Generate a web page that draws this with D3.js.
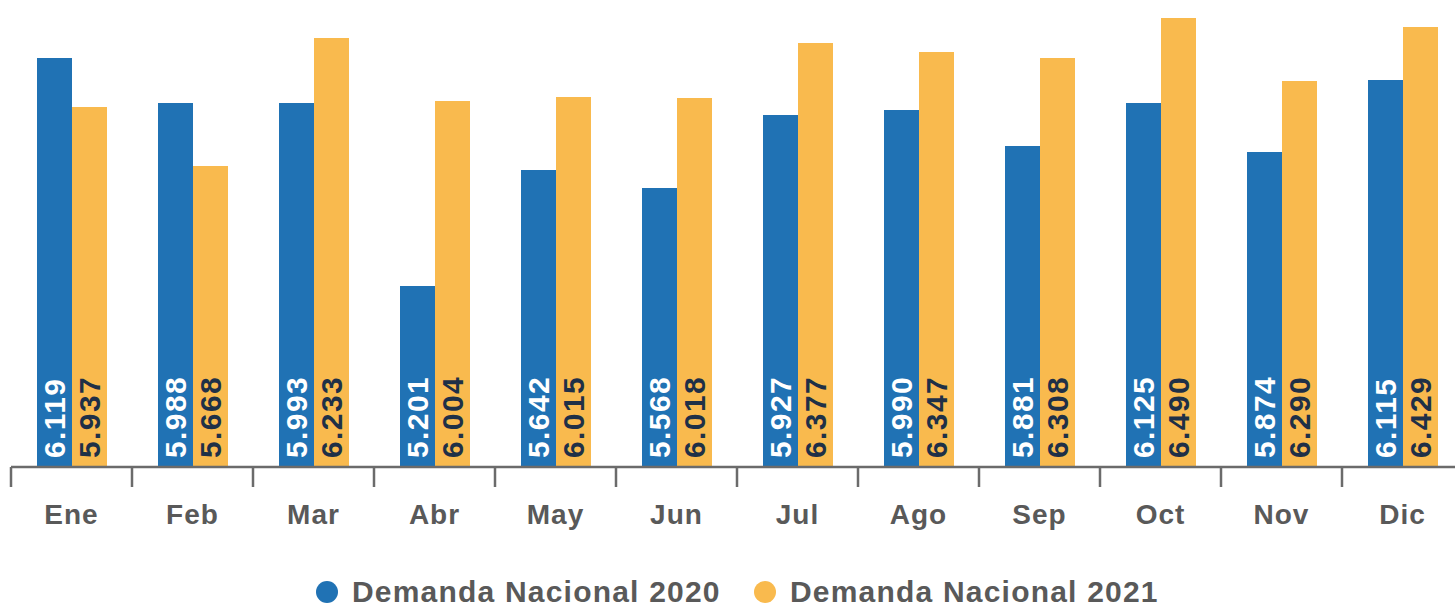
<!DOCTYPE html>
<html>
<head>
<meta charset="utf-8">
<script src="https://cdn.jsdelivr.net/npm/d3@7"></script>
<style>
  html, body { margin: 0; padding: 0; background: #fff; overflow: hidden; }
  svg { display: block; font-family: "Liberation Sans", Arial, Helvetica, sans-serif; }
</style>
</head>
<body>
<div id="chart"></div>
<script>
// months on the x axis
const months = ["Ene", "Feb", "Mar", "Abr", "May", "Jun", "Jul", "Ago", "Sep", "Oct", "Nov", "Dic"];
const seriesNames = ["Demanda Nacional 2020", "Demanda Nacional 2021"];

// printed values inside the bars
const labels2020 = ["6.119", "5.988", "5.993", "5.201", "5.642", "5.568", "5.927", "5.990", "5.881", "6.125", "5.874", "6.115"];
const labels2021 = ["5.937", "5.668", "6.233", "6.004", "6.015", "6.018", "6.377", "6.347", "6.308", "6.490", "6.290", "6.429"];

// plotted bar lengths (the bars do not follow the printed labels)
const bars2020 = [409, 364, 364, 181, 297, 279, 352, 357, 321, 364, 315, 387];
const bars2021 = [360, 301, 429, 366, 370, 369, 424, 415, 409, 449, 386, 440];

const colors = ["#2072b4", "#f9ba4e"];
const labelColors = ["#ffffff", "#1f3047"];

const width = 1455, height = 609;
const baseY = 467;

const svg = d3.select("#chart").append("svg")
  .attr("width", width)
  .attr("height", height);

// one band per month, ticks sit on the band edges
const x = d3.scaleBand()
  .domain(months)
  .range([11, 11 + 121 * 12])
  .padding(0);

const x1 = d3.scaleBand()
  .domain([0, 1])
  .range([26, 96])
  .padding(0);

const y = d3.scaleLinear()
  .domain([0, 460])
  .range([baseY, baseY - 460]);

const data = months.map((m, i) => ({
  month: m,
  values: [
    { s: 0, v: bars2020[i], label: labels2020[i] },
    { s: 1, v: bars2021[i], label: labels2021[i] }
  ]
}));

const groups = svg.append("g").selectAll("g")
  .data(data)
  .enter()
  .append("g")
  .attr("transform", d => "translate(" + x(d.month) + ",0)");

groups.selectAll("rect")
  .data(d => d.values)
  .enter()
  .append("rect")
  .attr("x", d => x1(d.s))
  .attr("width", x1.bandwidth())
  .attr("y", d => y(d.v))
  .attr("height", d => baseY - y(d.v))
  .attr("fill", d => colors[d.s]);

// rotated value labels at the foot of each bar
groups.selectAll("text")
  .data(d => d.values)
  .enter()
  .append("text")
  .attr("transform", d => "translate(" + (x1(d.s) + x1.bandwidth() / 2) + "," + (baseY - 9) + ") rotate(-90)")
  .attr("dy", "0.36em")
  .attr("text-anchor", "start")
  .style("font-size", "30px")
  .style("font-weight", "bold")
  .style("letter-spacing", "1.4px")
  .style("fill", d => labelColors[d.s])
  .text(d => d.label);

// x axis: base line, edge ticks, month names
const axis = svg.append("g");
axis.append("line")
  .attr("x1", x.range()[0])
  .attr("x2", x.range()[1])
  .attr("y1", baseY)
  .attr("y2", baseY)
  .attr("stroke", "#6b6b6b")
  .attr("stroke-width", 2.5);

axis.selectAll(".tick")
  .data(months)
  .enter()
  .append("line")
  .attr("class", "tick")
  .attr("x1", d => x(d))
  .attr("x2", d => x(d))
  .attr("y1", baseY)
  .attr("y2", baseY + 20)
  .attr("stroke", "#6b6b6b")
  .attr("stroke-width", 2.5);

axis.selectAll(".month")
  .data(months)
  .enter()
  .append("text")
  .attr("class", "month")
  .attr("x", d => x(d) + x.bandwidth() / 2)
  .attr("y", 524)
  .attr("text-anchor", "middle")
  .style("font-size", "28px")
  .style("font-weight", "bold")
  .style("letter-spacing", "1px")
  .style("fill", "#595959")
  .text(d => d);

// legend (kept just inside the bottom edge)
const legendX = [327, 765];
const legend = svg.append("g").selectAll("g")
  .data(seriesNames)
  .enter()
  .append("g")
  .attr("transform", (d, i) => "translate(" + legendX[i] + ",592)");

legend.append("circle")
  .attr("r", 11)
  .attr("fill", (d, i) => colors[i]);

legend.append("text")
  .attr("x", 25)
  .attr("y", 10)
  .style("font-size", "30px")
  .style("font-weight", "bold")
  .style("letter-spacing", "1.2px")
  .style("fill", "#595959")
  .text(d => d);
</script>
</body>
</html>
